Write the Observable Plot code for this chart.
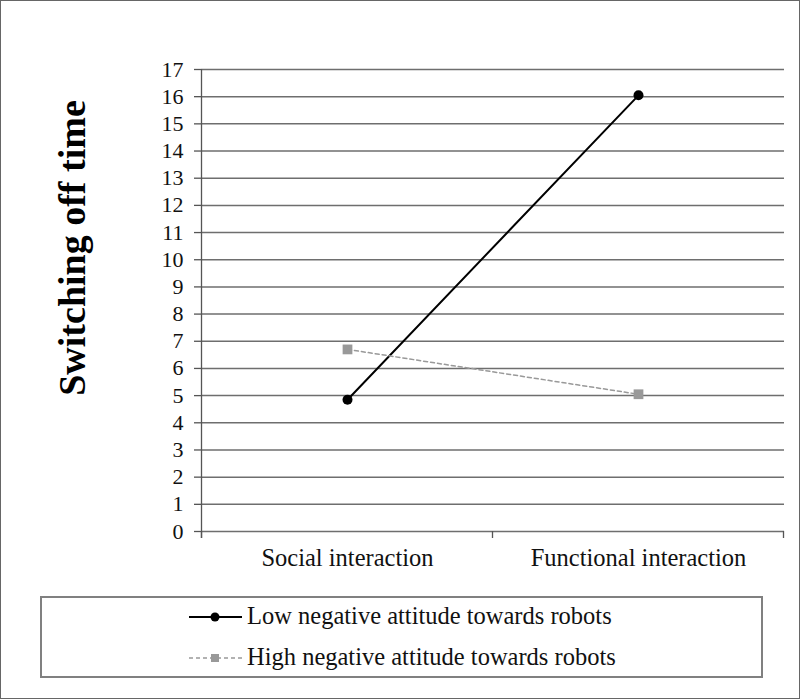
<!DOCTYPE html>
<html><head><meta charset="utf-8">
<script src="https://cdn.jsdelivr.net/npm/d3@7"></script>
<script src="https://cdn.jsdelivr.net/npm/@observablehq/plot@0.6"></script>
<style>
body{margin:0;background:#fff;}
#wrap{position:relative;width:800px;height:699px;overflow:hidden;font-family:"Liberation Serif","Times New Roman",serif;}
#border{position:absolute;left:0;top:0;width:798px;height:697px;border:1px solid #666;}
#chart{position:absolute;left:0;top:0;}
#title{position:absolute;left:0;top:0;}
#legend{position:absolute;left:0;top:590px;}
</style>
</head><body>
<div id="wrap">
<div id="chart"></div>
<svg id="title" width="130" height="590"><text x="85" y="248" transform="rotate(-90,85,248)" text-anchor="middle" font-family="Liberation Serif, Times New Roman, serif" font-weight="bold" font-size="38" fill="#000">Switching off time</text></svg>
<div id="legend"></div>
<div id="border"></div>
</div>
<script>
const categories = ["Social interaction", "Functional interaction"];
const seriesNames = ["Low negative attitude towards robots", "High negative attitude towards robots"];
const lowValues = [4.85, 16.05];
const highValues = [6.7, 5.05];
const yTicks = d3.range(0, 18);

const data = [
  ...categories.map((c, i) => ({cat: c, series: seriesNames[0], value: lowValues[i]})),
  ...categories.map((c, i) => ({cat: c, series: seriesNames[1], value: highValues[i]}))
];
const low = data.filter(d => d.series === seriesNames[0]);
const high = data.filter(d => d.series === seriesNames[1]);

// y axis line and boundary ticks on the category axis
function axisLines(index, scales, values, dims) {
  const x = scales.x, y = scales.y;
  const xs = categories.map(c => x(c));
  const step = xs.length > 1 ? xs[1] - xs[0] : (dims.width - dims.marginLeft - dims.marginRight);
  const bounds = [xs[0] - step / 2, ...xs.map(v => v + step / 2)];
  const y0 = y(0);
  const g = d3.create("svg:g");
  g.append("line").attr("x1", bounds[0]).attr("x2", bounds[0]).attr("y1", y(d3.max(yTicks))).attr("y2", y0 + 7)
    .attr("stroke", "#555").attr("stroke-width", 1.3);
  for (const b of bounds) {
    g.append("line").attr("x1", b).attr("x2", b).attr("y1", y0).attr("y2", y0 + 7)
      .attr("stroke", "#555").attr("stroke-width", 1.3);
  }
  return g.node();
}

const chart = Plot.plot({
  width: 800,
  height: 590,
  marginLeft: 201,
  marginRight: 16,
  marginTop: 69,
  marginBottom: 59,
  style: {fontFamily: "Liberation Serif, Times New Roman, serif", background: "transparent"},
  x: {type: "point", domain: categories, padding: 0.5, axis: null},
  y: {domain: [0, 17], axis: null},
  marks: [
    Plot.ruleY(yTicks, {stroke: "#6e6e6e", strokeWidth: 1.5}),
    Plot.axisY({ticks: yTicks, label: null, tickSize: 7, tickPadding: 11, fontSize: 22, stroke: "#555", fill: "#111", strokeWidth: 1.3, tickFormat: d => String(d)}),
    Plot.axisX({label: null, tickSize: 0, tickPadding: 17, fontSize: 24.5, fill: "#111"}),
    axisLines,
    Plot.line(low, {x: "cat", y: "value", stroke: "#000", strokeWidth: 2}),
    Plot.dot(low, {x: "cat", y: "value", fill: "#000", r: 5}),
    Plot.line(high, {x: "cat", y: "value", stroke: "#999", strokeWidth: 1.5, strokeDasharray: "4,3"}),
    Plot.dot(high, {x: "cat", y: "value", fill: "#999", symbol: "square", r: 5.5})
  ]
});
document.getElementById("chart").appendChild(chart);

// legend
const leg = d3.select("#legend").append("svg").attr("width", 800).attr("height", 109)
  .style("font-family", "Liberation Serif, Times New Roman, serif");
leg.append("rect").attr("x", 41).attr("y", 7).attr("width", 721).attr("height", 80)
  .attr("fill", "none").attr("stroke", "#808080").attr("stroke-width", 2);
const rows = [
  {name: seriesNames[0], y: 27, stroke: "#000", dash: null, sw: 2, sym: "circle", fill: "#000"},
  {name: seriesNames[1], y: 68, stroke: "#999", dash: "4,3", sw: 1.5, sym: "square", fill: "#999"}
];
for (const r of rows) {
  leg.append("line").attr("x1", 189).attr("x2", 242).attr("y1", r.y).attr("y2", r.y)
    .attr("stroke", r.stroke).attr("stroke-width", r.sw).attr("stroke-dasharray", r.dash);
  if (r.sym === "circle") leg.append("circle").attr("cx", 215).attr("cy", r.y).attr("r", 4.5).attr("fill", r.fill);
  else leg.append("rect").attr("x", 211).attr("y", r.y - 4).attr("width", 8).attr("height", 8).attr("fill", r.fill);
  leg.append("text").attr("x", 247).attr("y", r.y + 7).attr("font-size", 24.5).attr("fill", "#111").text(r.name);
}
</script>
</body></html>
